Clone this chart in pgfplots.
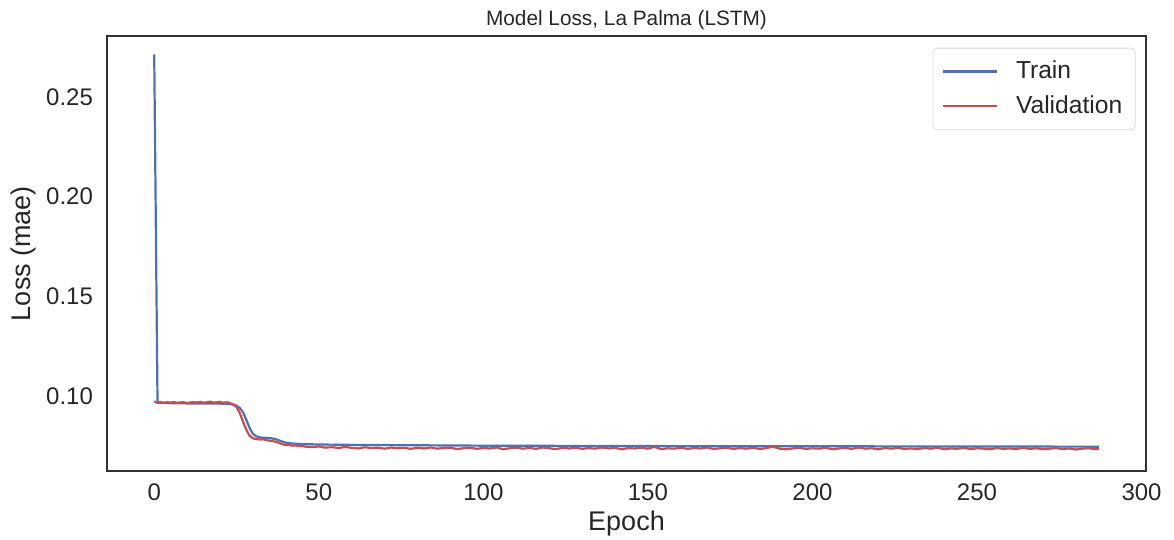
\documentclass[border=0pt]{standalone}
\usepackage{fontspec}
\setmainfont{Liberation Sans}
\usepackage{pgfplots}
\pgfplotsset{compat=1.18}
\usepackage{pgfplotstable}

\definecolor{sbblue}{HTML}{4C72B0}
\definecolor{sbred}{HTML}{C44E52}
\definecolor{sbtext}{HTML}{262626}

\pgfplotstableread{
epoch loss
0 0.2714
1 0.0966
5 0.0964
10 0.0963
15 0.0963
20 0.0962
23 0.0960
24 0.0957
25 0.0952
26 0.0940
27 0.0918
28 0.0880
29 0.0840
30 0.0810
31 0.0798
32 0.0793
33 0.0791
34 0.0790
35 0.0789
36 0.0787
37 0.0783
38 0.0777
39 0.0771
40 0.0766
42 0.0762
45 0.0759
50 0.0757
60 0.0755
80 0.0753
100 0.0751
150 0.0749
200 0.0748
250 0.0747
287 0.0746
}\train

\pgfplotstableread{
epoch loss
0 0.0972
1 0.0968
2 0.0970
3 0.0966
4 0.0969
5 0.0967
6 0.0970
7 0.0966
8 0.0968
9 0.0969
10 0.0964
11 0.0968
12 0.0970
13 0.0967
14 0.0971
15 0.0966
16 0.0969
17 0.0972
18 0.0967
19 0.0969
20 0.0971
21 0.0966
22 0.0969
23 0.0965
24 0.0958
25 0.0945
26 0.0915
27 0.0870
28 0.0830
29 0.0800
30 0.0788
31 0.0784
32 0.0782
33 0.0783
34 0.0779
35 0.0776
36 0.0774
37 0.0770
38 0.0764
39 0.0758
40 0.0754
41 0.0755
42 0.0751
43 0.0752
44 0.0749
45 0.0750
46 0.0746
48 0.0744
50 0.0747
52 0.0741
54 0.0744
56 0.0739
58 0.0745
60 0.0740
62 0.0737
64 0.0743
66 0.0739
68 0.0741
70 0.0736
72 0.0742
74 0.0738
76 0.0740
78 0.0735
80 0.0741
82 0.0737
84 0.0742
86 0.0736
88 0.0739
90 0.0741
92 0.0734
94 0.0738
96 0.0741
98 0.0735
100 0.0739
102 0.0737
104 0.0742
106 0.0733
108 0.0738
110 0.0741
112 0.0736
114 0.0740
116 0.0735
118 0.0742
120 0.0738
122 0.0734
124 0.0740
126 0.0737
128 0.0741
130 0.0735
132 0.0739
134 0.0736
136 0.0742
138 0.0737
140 0.0740
142 0.0733
144 0.0739
146 0.0737
148 0.0741
150 0.0736
152 0.0745
154 0.0734
156 0.0738
158 0.0736
160 0.0741
162 0.0735
164 0.0739
166 0.0737
168 0.0742
170 0.0734
172 0.0738
174 0.0740
176 0.0735
178 0.0739
180 0.0736
182 0.0741
184 0.0734
186 0.0739
188 0.0746
190 0.0736
192 0.0733
194 0.0737
196 0.0740
198 0.0735
200 0.0738
202 0.0736
204 0.0741
206 0.0733
208 0.0737
210 0.0739
212 0.0735
214 0.0742
216 0.0736
218 0.0738
220 0.0733
222 0.0739
224 0.0736
226 0.0740
228 0.0735
230 0.0737
232 0.0734
234 0.0739
236 0.0736
238 0.0741
240 0.0733
242 0.0737
244 0.0735
246 0.0740
248 0.0734
250 0.0738
252 0.0736
254 0.0733
256 0.0739
258 0.0735
260 0.0737
262 0.0734
264 0.0740
266 0.0735
268 0.0738
270 0.0733
272 0.0736
274 0.0739
276 0.0734
278 0.0737
280 0.0732
282 0.0736
284 0.0738
286 0.0734
287 0.0735
}\valid

\begin{document}
\begin{tikzpicture}
% page = 1174x540 px at 0.5pt per px, axis box lower left at (0,0)
\path[use as bounding box] (-53.5pt,-34.5pt) rectangle (533.5pt,235.5pt);
\begin{axis}[
    at={(0,0)}, anchor=south west,
    scale only axis,
    width=519.5pt, height=217.5pt,
    xmin=-14.35, xmax=301.35,
    ymin=0.0624, ymax=0.2806,
    xtick={0,50,...,300},
    ytick={0.10,0.15,0.20,0.25},
    yticklabel style={/pgf/number format/fixed, /pgf/number format/fixed zerofill,
        /pgf/number format/precision=2, xshift=-3.5pt},
    /pgf/number format/assume math mode=true,
    major tick length=0pt,
    axis line style={draw=sbtext!95, line width=0.6pt},
    tick label style={font=\fontsize{12}{14}\selectfont, text=sbtext},
    xticklabel style={yshift=-3pt},
    title={Model Loss, La Palma (LSTM)},
    title style={font=\fontsize{10.4}{12}\selectfont, text=sbtext, yshift=-6.5pt},
    xlabel={Epoch},
    ylabel={Loss (mae)},
    label style={font=\fontsize{13.5}{16}\selectfont, text=sbtext},
    xlabel style={yshift=2pt},
    ylabel style={yshift=-2pt},
    legend style={at={(0.99,0.973)}, anchor=north east,
        draw=black!15, rounded corners=2pt,
        font=\fontsize{12.3}{15}\selectfont, text=sbtext,
        inner xsep=4.5pt, inner ysep=4.5pt,
        row sep=3pt},
    legend cell align=left,
    legend image code/.code={\draw[#1] (0cm,0cm) -- (0.95cm,0cm);},
]
\addplot[sbblue, line width=1.1pt] table[x=epoch, y=loss] {\train};
\addlegendentry{\ \ Train}
\addplot[sbred, line width=1.1pt] table[x=epoch, y=loss] {\valid};
\addlegendentry{\ \ Validation}
\end{axis}
\end{tikzpicture}
\end{document}
